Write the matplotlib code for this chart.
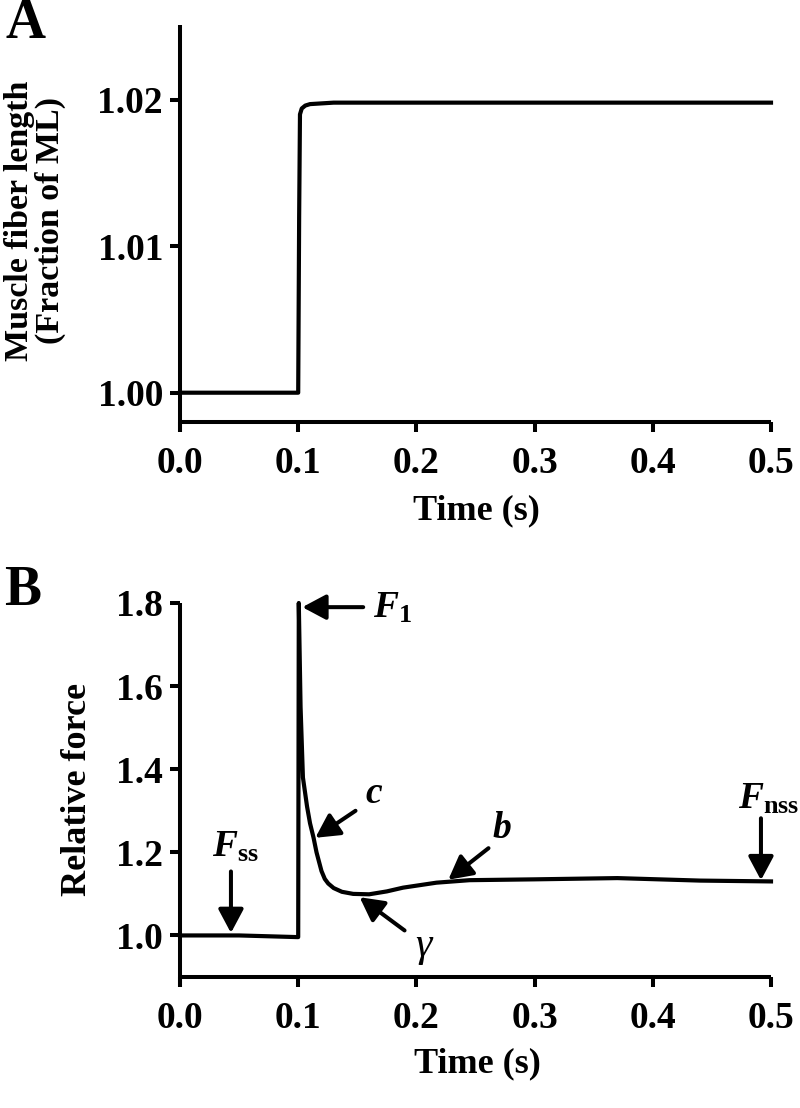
import matplotlib
matplotlib.use('Agg')
import matplotlib.pyplot as plt
from matplotlib.lines import Line2D

plt.rcParams['font.family'] = ['Liberation Serif', 'DejaVu Serif']
plt.rcParams['font.weight'] = 'bold'
plt.rcParams['mathtext.fontset'] = 'custom'
plt.rcParams['mathtext.it'] = 'Liberation Serif:italic:bold'
plt.rcParams['mathtext.rm'] = 'Liberation Serif:bold'
plt.rcParams['mathtext.bf'] = 'Liberation Serif:bold'

# ---------------- data ----------------
time_a = [0.0, 0.05, 0.1, 0.1008, 0.1015, 0.103, 0.106, 0.11, 0.13, 0.2, 0.3, 0.4, 0.5]
length_a = [1.0, 1.0, 1.0, 1.012, 1.0190, 1.0194, 1.0196, 1.0197, 1.0198, 1.0198, 1.0198, 1.0198, 1.0198]

time_b = [0.0, 0.05, 0.0995, 0.1, 0.1005, 0.102, 0.104, 0.1075, 0.110, 0.113, 0.1155,
          0.1197, 0.1225, 0.1254, 0.130, 0.137, 0.1465, 0.16, 0.175, 0.1887, 0.217,
          0.245, 0.30, 0.37, 0.44, 0.5]
force_b = [1.0, 1.0, 0.996, 0.996, 1.8, 1.55, 1.38, 1.31, 1.27, 1.235, 1.20,
           1.155, 1.136, 1.125, 1.114, 1.105, 1.10, 1.099, 1.106, 1.115, 1.127,
           1.133, 1.135, 1.138, 1.132, 1.130]

xticks = [0.0, 0.1, 0.2, 0.3, 0.4, 0.5]
xticklabels = ['0.0', '0.1', '0.2', '0.3', '0.4', '0.5']
yticks_a = [1.00, 1.01, 1.02]
yticklabels_a = ['1.00', '1.01', '1.02']
yticks_b = [1.0, 1.2, 1.4, 1.6, 1.8]
yticklabels_b = ['1.0', '1.2', '1.4', '1.6', '1.8']

# ---------------- layout ----------------
W, H = 800, 1108
fig = plt.figure(figsize=(W / 100, H / 100), dpi=100)


def box(l, t, r, b):
    return [l / W, 1 - b / H, (r - l) / W, (b - t) / H]


axA = fig.add_axes(box(180, 25, 771, 422))
axB = fig.add_axes(box(180, 603, 771, 977))

LW = 2.9
TL = 7.2
for ax in (axA, axB):
    ax.spines['top'].set_visible(False)
    ax.spines['right'].set_visible(False)
    for s in ('left', 'bottom'):
        ax.spines[s].set_linewidth(LW)
        ax.spines[s].set_capstyle('butt')
    ax.tick_params(direction='out', length=TL, width=LW, labelsize=27)
    ax.tick_params(axis='x', pad=10)
    ax.tick_params(axis='y', pad=5)
    ax.set_xlim(0, 0.5)
    ax.set_xticks(xticks)
    ax.set_xticklabels(xticklabels, fontweight='bold')
    # left spine extends down to the tick ends
    ax.add_line(Line2D([0, 0], [0, -TL / 72 * 100 / ax.bbox.height],
                       transform=ax.transAxes, color='black', lw=LW,
                       clip_on=False, solid_capstyle='butt'))

# ---------------- panel A ----------------
axA.plot(time_a, length_a, color='black', lw=3.0, clip_on=False,
         solid_joinstyle='round')
axA.set_ylim(0.998, 1.0251)
axA.set_yticks(yticks_a)
axA.set_yticklabels(yticklabels_a, fontweight='bold')

fig.text(35 / W, 1 - 221 / H, 'Muscle fiber length\n(Fraction of ML)',
         rotation=90, ha='center', va='center', multialignment='center',
         fontsize=24.5, fontweight='bold', linespacing=1.0)
fig.text(476 / W, 1 - 511 / H, 'Time (s)', ha='center', va='center',
         fontsize=26, fontweight='bold')
fig.text(6 / W, 1 - 38 / H, 'A', ha='left', va='baseline', fontsize=40,
         fontweight='bold')

# ---------------- panel B ----------------
axB.plot(time_b, force_b, color='black', lw=3.0, clip_on=False,
         solid_joinstyle='round')
axB.set_ylim(0.9, 1.8)
axB.set_yticks(yticks_b)
axB.set_yticklabels(yticklabels_b, fontweight='bold')

fig.text(78 / W, 1 - 790 / H, 'Relative force', rotation=90, ha='center',
         va='center', fontsize=26, fontweight='bold')
fig.text(477 / W, 1 - 1064 / H, 'Time (s)', ha='center', va='center',
         fontsize=26, fontweight='bold')
fig.text(4 / W, 1 - 605 / H, 'B', ha='left', va='baseline', fontsize=40,
         fontweight='bold')

arrow = dict(arrowstyle='-|>,head_length=0.6,head_width=0.32', color='black',
             lw=2.9, mutation_scale=24, shrinkA=0, shrinkB=0)

# F1
axB.annotate('', xy=(0.1035, 1.79), xytext=(0.155, 1.79), arrowprops=arrow,
             annotation_clip=False)
axB.text(0.163, 1.765, r'$F_{\mathrm{1}}$', fontsize=27, ha='left', va='baseline')
# c
axB.annotate('', xy=(0.1145, 1.235), xytext=(0.1485, 1.30), arrowprops=arrow)
axB.text(0.157, 1.318, 'c', fontsize=27, style='italic', fontweight='bold',
         ha='left', va='baseline')
# gamma
axB.annotate('', xy=(0.152, 1.092), xytext=(0.190, 1.012), arrowprops=arrow)
axB.text(0.2056, 0.975, 'γ', fontsize=30, style='italic', fontweight='normal',
         ha='center', va='center')
# b
axB.annotate('', xy=(0.227, 1.134), xytext=(0.261, 1.21), arrowprops=arrow)
axB.text(0.264, 1.235, 'b', fontsize=27, style='italic', fontweight='bold',
         ha='left', va='baseline')
# Fss
axB.annotate('', xy=(0.0431, 1.006), xytext=(0.0431, 1.154), arrowprops=arrow)
axB.text(0.027, 1.19, r'$F_{\mathrm{ss}}$', fontsize=27, ha='left', va='baseline')
# Fnss
axB.annotate('', xy=(0.4915, 1.133), xytext=(0.4915, 1.282), arrowprops=arrow,
             annotation_clip=False)
axB.text(0.472, 1.305, r'$F_{\mathrm{nss}}$', fontsize=27, ha='left', va='baseline')

fig.savefig('out.png', dpi=100)
